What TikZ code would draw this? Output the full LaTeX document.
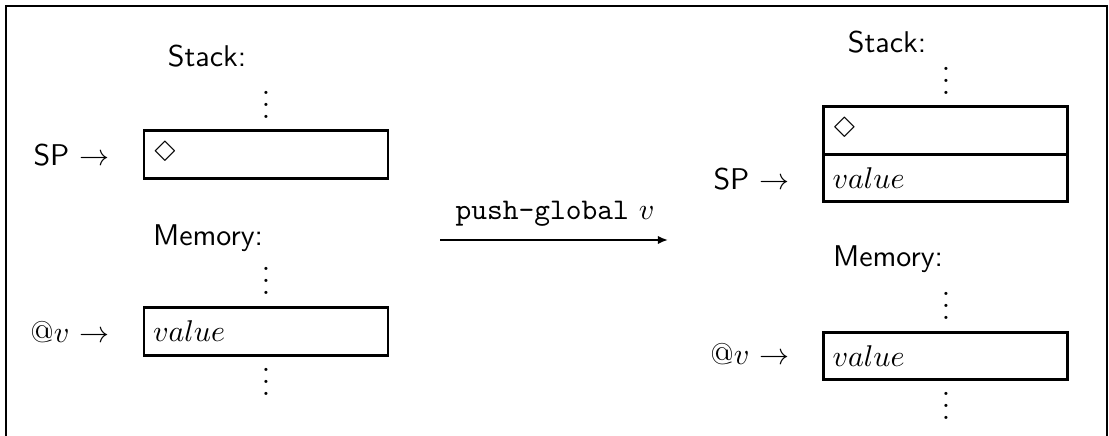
\documentclass[tikz,border=0pt]{standalone}
\usepackage{latexsym}
\usetikzlibrary{arrows.meta,positioning}
\tikzset{
  cell/.style={
    draw,
    line width=0.9pt,
    outer sep=0pt,
    inner sep=3pt,
    minimum width=81.3pt,
    minimum height=15.8pt,
    text width=75.3pt,
    align=left
  },
  heading/.style={
    font=\sffamily,
    inner sep=0pt,
    anchor=base
  },
  pointer/.style={
    inner sep=0pt,
    anchor=base east
  },
  more/.style={
    inner sep=0pt,
    anchor=base
  },
  frame/.style={
    line width=0.7pt
  },
  arrow/.style={
    -{Latex[length=3.4pt,width=2.8pt]},
    line width=0.6pt
  }
}

\begin{document}
\begin{tikzpicture}[x=0.3333pt,y=-0.3333pt]
  \useasboundingbox (0,0) rectangle (1109,436);
  \draw[frame] (6,436) -- (6,6) -- (1107,6) -- (1107,436);

  % before
  \node[heading] (stackA) at (207,67) {Stack:};
  \node[more] (dotsA) at (266,119) {$\vdots$};
  \node[cell] (topA) at (266,154.5) {$\Diamond$};
  \node[pointer] (spA) at (110,166) {\sffamily SP $\rightarrow$};
  \node[heading] (memA) at (208,246) {Memory:};
  \node[more] (dotsB) at (266,295) {$\vdots$};
  \node[cell] (varA) at (266,331.5) {$value$};
  \node[pointer] (addrA) at (110,343) {@$v$ $\rightarrow$};
  \node[more] (dotsC) at (266,396) {$\vdots$};

  % step
  \coordinate (stepL) at (440,240);
  \coordinate (stepR) at (668,240);
  \node[more] (step label) at (555,220) {\texttt{push-global} $v$};
  \draw[arrow] (stepL) -- (stepR);

  % after
  \node[heading] (stackB) at (887,53) {Stack:};
  \node[more] (dotsD) at (946,95) {$\vdots$};
  \node[cell] (topB) at (945.5,130.5) {$\Diamond$};
  \node[cell, below=0pt of topB] (newB) {$value$};
  \node[pointer] (spB) at (790,190) {\sffamily SP $\rightarrow$};
  \node[heading] (memB) at (888,267) {Memory:};
  \node[more] (dotsE) at (946,320) {$\vdots$};
  \node[cell] (varB) at (945.5,356) {$value$};
  \node[pointer] (addrB) at (790,365) {@$v$ $\rightarrow$};
  \node[more] (dotsF) at (946,420) {$\vdots$};
\end{tikzpicture}
\end{document}
